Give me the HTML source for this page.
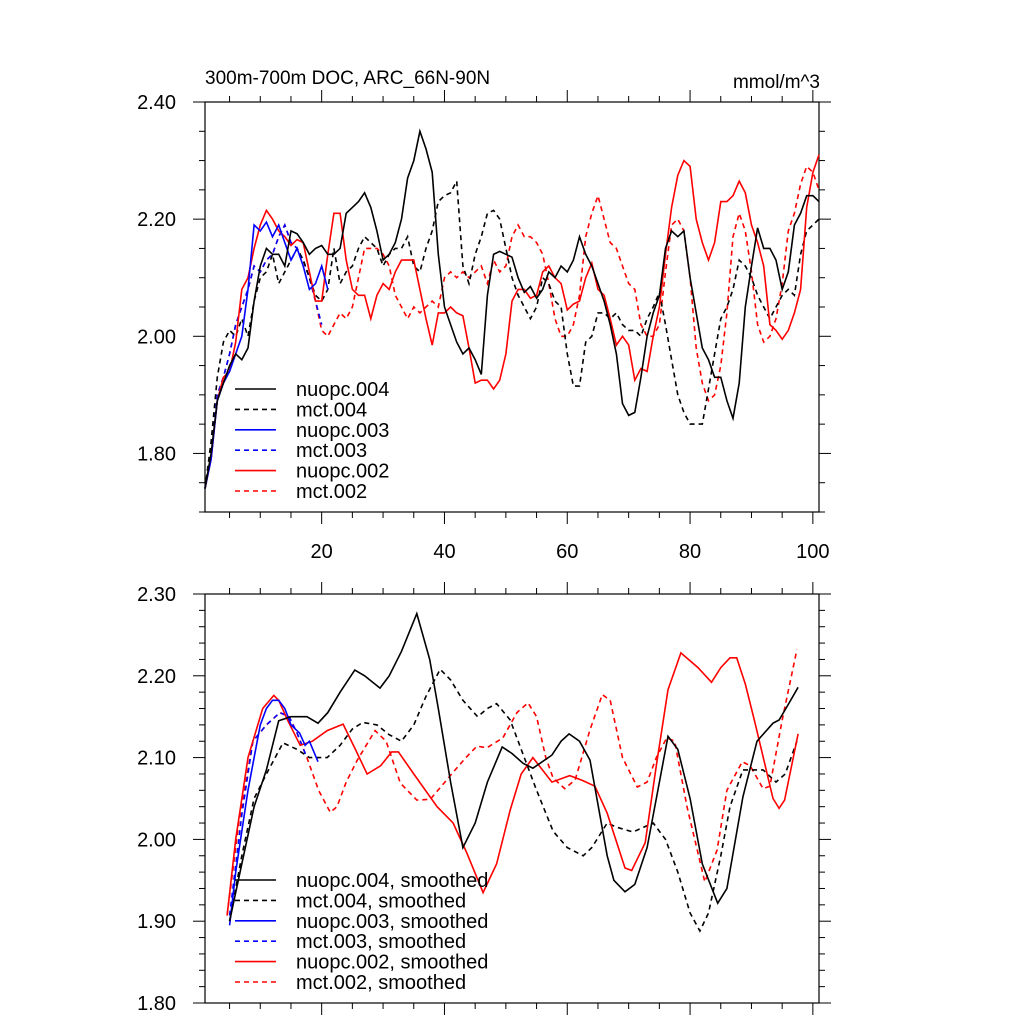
<!DOCTYPE html>
<html><head><meta charset="utf-8"><style>
html,body{margin:0;padding:0;background:#fff}
svg{display:block;font-family:"Liberation Sans",sans-serif}
</style></head><body>
<svg id="chart" width="1024" height="1024" viewBox="0 0 1024 1024">
<text x="205" y="84" font-size="19">300m-700m DOC, ARC_66N-90N</text>
<text x="820" y="88" font-size="19" text-anchor="end">mmol/m^3</text>
</svg>
<script>
const topNuopc004=[1.74,1.80,1.89,1.92,1.95,1.97,1.96,1.98,2.06,2.12,2.15,2.14,2.14,2.12,2.18,2.175,2.16,2.14,2.15,2.155,2.14,2.14,2.15,2.21,2.22,2.23,2.245,2.22,2.18,2.13,2.14,2.16,2.20,2.27,2.30,2.35,2.32,2.28,2.14,2.05,2.02,1.99,1.97,1.98,1.96,1.935,2.07,2.14,2.145,2.14,2.135,2.10,2.075,2.085,2.065,2.08,2.11,2.10,2.12,2.11,2.13,2.17,2.14,2.12,2.09,2.06,2.02,1.97,1.885,1.865,1.87,1.93,2.00,2.04,2.07,2.15,2.18,2.17,2.18,2.10,2.04,1.98,1.96,1.93,1.93,1.89,1.86,1.92,2.05,2.12,2.185,2.15,2.15,2.13,2.08,2.11,2.19,2.21,2.24,2.24,2.23];
const topMct004=[1.74,1.82,1.93,1.99,2.01,2.00,2.03,2.00,2.06,2.10,2.11,2.14,2.09,2.11,2.13,2.15,2.13,2.10,2.07,2.06,2.08,2.15,2.09,2.11,2.12,2.15,2.17,2.16,2.15,2.12,2.14,2.15,2.15,2.17,2.12,2.11,2.15,2.18,2.23,2.24,2.245,2.265,2.12,2.09,2.14,2.17,2.21,2.215,2.20,2.15,2.10,2.07,2.05,2.03,2.05,2.10,2.09,2.06,2.05,1.97,1.915,1.915,1.99,2.00,2.04,2.04,2.03,2.04,2.02,2.01,2.01,2.00,2.03,2.05,2.075,2.02,1.96,1.90,1.87,1.85,1.85,1.85,1.91,1.97,2.03,2.05,2.08,2.13,2.12,2.10,2.07,2.05,2.03,2.05,2.07,2.08,2.07,2.14,2.18,2.19,2.20];
const topNuopc003=[1.74,1.79,1.89,1.92,1.94,1.97,2.00,2.08,2.19,2.18,2.195,2.17,2.19,2.16,2.13,2.15,2.12,2.08,2.09,2.12,2.08];
const topMct003=[1.74,1.80,1.90,1.93,1.97,2.02,2.05,2.08,2.12,2.11,2.13,2.14,2.17,2.19,2.16,2.15,2.13,2.10,2.06,2.02];
const topNuopc002=[1.74,1.79,1.89,1.93,1.94,1.99,2.08,2.10,2.15,2.19,2.215,2.20,2.18,2.17,2.155,2.165,2.16,2.11,2.06,2.06,2.14,2.21,2.21,2.13,2.08,2.07,2.07,2.03,2.07,2.09,2.08,2.11,2.13,2.13,2.13,2.08,2.03,1.985,2.04,2.04,2.05,2.04,2.035,1.98,1.92,1.925,1.925,1.91,1.925,1.97,2.06,2.08,2.08,2.065,2.07,2.11,2.12,2.10,2.09,2.045,2.055,2.06,2.10,2.125,2.08,2.07,2.03,1.985,2.00,1.985,1.925,1.945,1.94,2.00,2.05,2.14,2.22,2.275,2.30,2.29,2.20,2.16,2.13,2.16,2.23,2.23,2.24,2.265,2.245,2.19,2.16,2.12,2.02,2.01,1.995,2.01,2.04,2.08,2.22,2.28,2.31];
const topMct002=[1.74,1.80,1.90,1.93,1.97,2.02,2.05,2.08,2.12,2.11,2.13,2.14,2.17,2.19,2.16,2.15,2.13,2.10,2.06,2.01,2.00,2.02,2.04,2.03,2.05,2.10,2.15,2.15,2.15,2.14,2.12,2.07,2.05,2.03,2.05,2.04,2.05,2.06,2.05,2.10,2.11,2.10,2.11,2.10,2.11,2.12,2.09,2.13,2.11,2.12,2.17,2.19,2.17,2.17,2.16,2.14,2.09,2.03,2.00,2.00,2.02,2.07,2.17,2.21,2.24,2.20,2.16,2.15,2.12,2.09,2.08,2.02,2.00,2.00,2.02,2.11,2.19,2.20,2.18,2.10,1.98,1.92,1.89,1.90,1.95,2.04,2.17,2.21,2.18,2.11,2.02,1.99,2.00,2.03,2.09,2.18,2.21,2.26,2.29,2.28,2.25];

const smNuopc004Years=[5,7,9,11,13,15,17.6,19.4,21,23,25.4,27,29.5,31,33,35.5,37.6,39,41,43,45,47,49.4,51,52.8,54.4,57.5,59,60.3,62,63.7,66.5,67.6,69.4,71,73,75,76.4,78,80,82,84.5,86,88.6,90.9,93.5,94.5,96,97.6];
const smNuopc004=[1.90,1.97,2.04,2.085,2.145,2.15,2.15,2.142,2.155,2.18,2.207,2.20,2.185,2.20,2.23,2.276,2.22,2.16,2.07,1.99,2.02,2.07,2.113,2.105,2.093,2.087,2.103,2.12,2.129,2.12,2.097,1.98,1.95,1.936,1.945,1.99,2.07,2.126,2.11,2.05,1.97,1.922,1.94,2.052,2.12,2.142,2.146,2.165,2.186];
const smMct004Years=[5,7,9,11,13.7,16,18,20.9,23,25,26.7,29,31,33,35,37,39.3,41,43,45.4,47,48.5,50.7,53,55,57.7,60,62.6,64,66.5,68,70.7,74,76,78,80,81.6,83,85,86.5,88.6,91.9,94,95.5,97.4];
const smMct004=[1.90,1.98,2.05,2.08,2.118,2.11,2.10,2.10,2.115,2.135,2.143,2.14,2.128,2.12,2.14,2.175,2.208,2.195,2.17,2.15,2.16,2.166,2.146,2.10,2.06,2.01,1.99,1.98,1.99,2.02,2.015,2.009,2.02,2.00,1.96,1.91,1.888,1.91,1.98,2.04,2.085,2.085,2.07,2.08,2.12];
const smNuopc003Years=[5,6,7,8,9,10,11,12,13,14,15,16.4,17.3,18,19.4];
const smNuopc003=[1.895,1.96,2.01,2.06,2.10,2.14,2.16,2.17,2.17,2.16,2.14,2.13,2.115,2.12,2.095];
const smMct003Years=[5,7,8.8,11,13.2,14.7,16,17.6];
const smMct003=[1.907,2.03,2.12,2.14,2.155,2.15,2.13,2.10];
const smNuopc002Years=[4.6,6,8,10.4,12.2,13,14.5,16.5,18.5,20.9,23.5,25.5,27.4,29.6,31.4,32.5,35,38.8,41.4,43.6,46.3,48.5,50.7,52.5,54.4,57.5,60.4,62.5,64.5,66.5,69.4,70.5,72.7,74.5,76.4,78.5,81.3,83.5,85,86.5,87.6,89,90.6,93.5,94.5,95.4,97.6];
const smNuopc002=[1.907,2.00,2.10,2.16,2.176,2.17,2.145,2.115,2.12,2.133,2.141,2.11,2.08,2.09,2.107,2.107,2.08,2.04,2.02,1.984,1.935,1.97,2.036,2.08,2.10,2.07,2.078,2.072,2.065,2.032,1.965,1.962,1.996,2.09,2.183,2.228,2.21,2.192,2.21,2.222,2.222,2.19,2.142,2.05,2.038,2.048,2.129];
const smMct002Years=[4.6,6.5,8.8,11,13.2,14.7,16,17.6,19.5,21.4,22.5,24,25.8,28.7,30.5,32.8,35.5,37.7,39.5,41.4,43.5,45.3,46.9,49.5,51.8,53.6,55,56.5,57.7,59.6,61.3,63.7,65.7,67,69,71.4,73,74.5,76.2,77.5,79.5,82.4,84.4,86,88.5,89.8,91.9,93,95,97.4];
const smMct002=[1.907,2.02,2.12,2.14,2.155,2.15,2.13,2.10,2.06,2.033,2.04,2.07,2.097,2.133,2.12,2.069,2.048,2.049,2.065,2.082,2.10,2.114,2.112,2.124,2.155,2.167,2.15,2.10,2.075,2.062,2.073,2.134,2.177,2.17,2.10,2.064,2.07,2.10,2.124,2.12,2.04,1.948,1.987,2.06,2.095,2.09,2.062,2.065,2.146,2.232];

const xTickLabels=["20","40","60","80","100"];
const xTickValues=[20,40,60,80,100];
const topYTicks=[1.80,2.00,2.20,2.40];
const botYTicks=[1.80,1.90,2.00,2.10,2.20,2.30];
const legendTop=["nuopc.004","mct.004","nuopc.003","mct.003","nuopc.002","mct.002"];
const legendBot=["nuopc.004, smoothed","mct.004, smoothed","nuopc.003, smoothed","mct.003, smoothed","nuopc.002, smoothed","mct.002, smoothed"];

const NS="http://www.w3.org/2000/svg";
const svg=document.getElementById('chart');
const X0=205,X1=819,XMIN=1,XMAX=101;
function xs(v){return X0+(v-XMIN)/(XMAX-XMIN)*(X1-X0);}
function mk(tag,attrs,parent){const e=document.createElementNS(NS,tag);for(const k in attrs)e.setAttribute(k,attrs[k]);(parent||svg).appendChild(e);return e;}
const styles=[{c:"#000",d:""},{c:"#000",d:"5,4"},{c:"#0000ff",d:""},{c:"#0000ff",d:"5,4"},{c:"#ff0000",d:""},{c:"#ff0000",d:"5,4"}];

function panel(name,yT,yB,ymin,ymax,yMajors,yMinStep,showXLabels){
  const ys=v=>yB-(v-ymin)/(ymax-ymin)*(yB-yT);
  const g=mk('g',{});
  
  
  const fr=mk('rect',{x:X0,y:yT,width:X1-X0,height:yB-yT,fill:"none",stroke:"#000","stroke-width":1.2},g);
  
  
  for(let v=ymin;v<=ymax+1e-9;v+=yMinStep){
    const y=ys(v);const maj=yMajors.some(m=>Math.abs(m-v)<1e-6);const L=maj?12:6;
    mk('line',{x1:X0-L,x2:X0,y1:y,y2:y,stroke:"#000","stroke-width":1},g);
    mk('line',{x1:X1,x2:X1+L,y1:y,y2:y,stroke:"#000","stroke-width":1},g);
  }
  yMajors.forEach(m=>{const t=mk('text',{x:176,y:ys(m)+7,"font-size":20,"text-anchor":"end"},g);t.textContent=m.toFixed(2);
    
    });
  for(let v=5;v<=100;v+=5){const x=xs(v);const maj=v%20===0;const L=maj?12:6;
    mk('line',{x1:x,x2:x,y1:yB,y2:yB+L,stroke:"#000","stroke-width":1},g);
    mk('line',{x1:x,x2:x,y1:yT-L,y2:yT,stroke:"#000","stroke-width":1},g);}
  if(showXLabels)xTickValues.forEach((v,i)=>{const t=mk('text',{x:xs(v),y:yB+46,"font-size":20,"text-anchor":"middle"},g);t.textContent=xTickLabels[i];
    
    });
  return ys;
}
function line(name,xsArr,vals,ys,st){
  const pts=vals.map((v,i)=>xs(xsArr[i]).toFixed(1)+","+ys(v).toFixed(1)).join(" ");
  const p=mk('polyline',{points:pts,fill:"none",stroke:st.c,"stroke-width":1.6,"stroke-dasharray":st.d});
  
  
}
function legend(name,labels,y0,dy){
  labels.forEach((lb,i)=>{const y=y0+i*dy;const st=styles[i];
    const l=mk('line',{x1:235,x2:276,y1:y,y2:y,stroke:st.c,"stroke-width":1.6,"stroke-dasharray":st.d});
    
    
    const t=mk('text',{x:296,y:y+7,"font-size":20});t.textContent=lb;
    
    });
}
const idx=a=>a.map((_,i)=>i+1);
const ysTop=panel('top-panel',102,512,1.70,2.40,topYTicks,0.05,true);
line('top-mct002',idx(topMct002),topMct002,ysTop,styles[5]);
line('top-mct003',idx(topMct003),topMct003,ysTop,styles[3]);
line('top-mct004',idx(topMct004),topMct004,ysTop,styles[1]);
line('top-nuopc002',idx(topNuopc002),topNuopc002,ysTop,styles[4]);
line('top-nuopc003',idx(topNuopc003),topNuopc003,ysTop,styles[2]);
line('top-nuopc004',idx(topNuopc004),topNuopc004,ysTop,styles[0]);
legend('top-legend',legendTop,389,20.4);

const ysBot=panel('bottom-panel',594,1003,1.80,2.30,botYTicks,0.02,false);
line('sm-mct002',smMct002Years,smMct002,ysBot,styles[5]);
line('sm-mct003',smMct003Years,smMct003,ysBot,styles[3]);
line('sm-mct004',smMct004Years,smMct004,ysBot,styles[1]);
line('sm-nuopc002',smNuopc002Years,smNuopc002,ysBot,styles[4]);
line('sm-nuopc003',smNuopc003Years,smNuopc003,ysBot,styles[2]);
line('sm-nuopc004',smNuopc004Years,smNuopc004,ysBot,styles[0]);
legend('bottom-legend',legendBot,880,20.4);
</script>
</body></html>
